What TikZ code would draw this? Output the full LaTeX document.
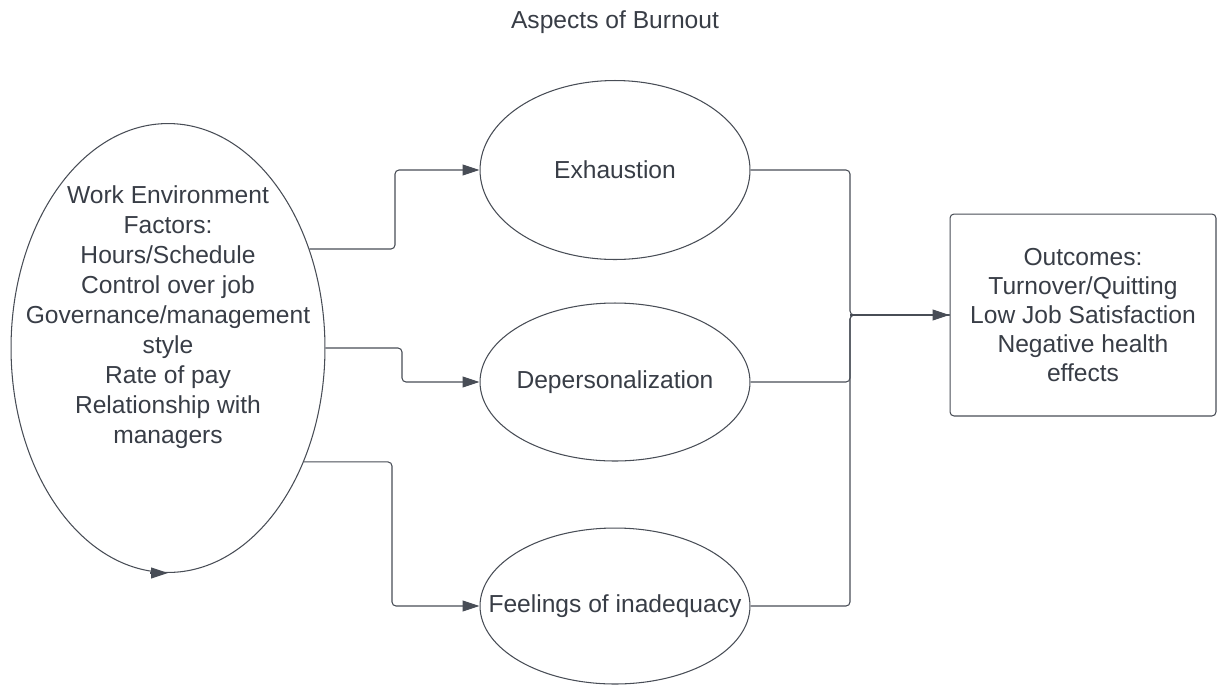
\documentclass[tikz,border=0pt]{standalone}
\usepackage{fontspec}
\setmainfont{Liberation Sans}
\usetikzlibrary{arrows.meta,calc,shapes.geometric}

\definecolor{inkline}{RGB}{72,77,86}
\definecolor{inktext}{RGB}{56,61,70}

\begin{document}
\begin{tikzpicture}[x=0.02cm,y=-0.02cm,
  font=\fontsize{14}{16.8}\selectfont,text=inktext,
  bubble/.style={draw=inkline,line width=0.6pt,ellipse,inner sep=0pt,minimum width=5.4cm},
  conn/.style={draw=inkline,line width=0.6pt,rounded corners=0.08cm},
  arr/.style={conn,-{Triangle[length=0.34cm,width=0.22cm]}}]
\useasboundingbox (0,0) rectangle (1217,684);

\node (title) at (615,22) {Aspects of Burnout};

\node[bubble,minimum width=6.28cm,minimum height=8.98cm,
  label={[name=worktxt,align=center,yshift=0.62cm,font=\fontsize{14}{17.1}\selectfont]center:{Work Environment\\Factors:\\Hours/Schedule\\Control over job\\Governance/management\\style\\Rate of pay\\Relationship with\\managers}}] (work) at (168,348) {};

\node[bubble,minimum height=3.58cm,label={[name=exhtxt]center:Exhaustion}] (exh) at (615,170) {};
\node[bubble,minimum height=3.16cm,label={[name=deptxt]center:Depersonalization}] (dep) at (615,382) {};
\node[bubble,minimum height=3.12cm,label={[name=feeltxt]center:Feelings of inadequacy}] (feel) at (615,606) {};

\node[draw=inkline,line width=0.6pt,rounded corners=0.08cm,minimum width=5.32cm,minimum height=4.04cm,align=center,
  font=\fontsize{14}{16.4}\selectfont] (out) at (1083,315) {Outcomes:\\Turnover/Quitting\\Low Job Satisfaction\\Negative health\\effects};

\coordinate (bendA) at (395,0);
\coordinate (bendB) at (402,0);
\coordinate (bendC) at (392,0);
\coordinate (join) at (850,0);
\coordinate (loose) at ($(work.south)+(-18,0)$);

\draw[arr] (work.35) -| (bendA |- exh.west) -- (exh.west);
\draw[arr] (work.east) -| (bendB |- dep.west) -- (dep.west);
\draw[arr] (work.-40) -| (bendC |- feel.west) -- (feel.west);

\foreach \n in {exh,dep,feel}
  \draw[conn] (\n.east) -| (join |- out.west) -- (out.west);
\draw[arr] (join |- out.west) -- (out.west);

\draw[arr] (loose) -- (work.south);
\end{tikzpicture}
\end{document}
